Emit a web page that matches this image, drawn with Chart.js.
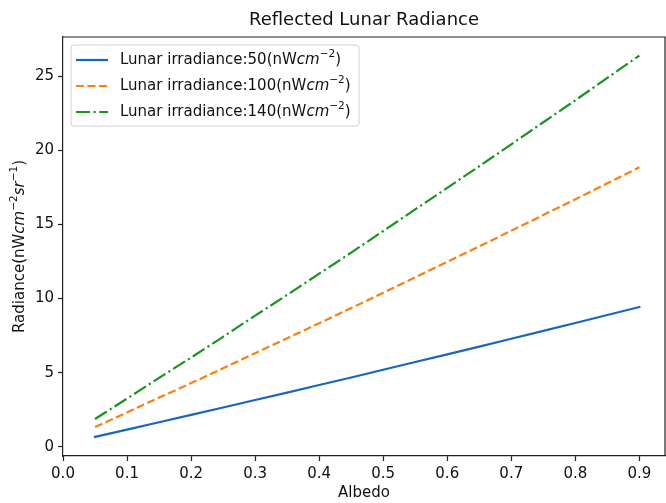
<!DOCTYPE html>
<html lang="en">
  <head>
    <meta charset="UTF-8" />
    <title>Reflected Lunar Radiance</title>
    <script src="https://cdn.jsdelivr.net/npm/chart.js"></script>
    <style>
      html, body { margin: 0; padding: 0; background: #fff; }
      #wrap { width: 666px; height: 503px; }
    </style>
  </head>
  <body>
    <div id="wrap"><canvas id="radianceChart" width="666" height="503"></canvas></div>
    <script>
      // data
      const albedo = [0.05, 0.1, 0.15, 0.2, 0.25, 0.3, 0.35, 0.4, 0.45, 0.5, 0.55, 0.6, 0.65, 0.7, 0.75, 0.8, 0.85, 0.9];
      const irr50 = [0.67, 1.16, 1.66, 2.15, 2.65, 3.16, 3.66, 4.17, 4.68, 5.2, 5.72, 6.24, 6.76, 7.29, 7.82, 8.35, 8.89, 9.43];
      const irr100 = [1.34, 2.32, 3.32, 4.3, 5.3, 6.32, 7.32, 8.34, 9.36, 10.4, 11.44, 12.48, 13.52, 14.58, 15.64, 16.7, 17.78, 18.86];
      const irr140 = [1.88, 3.25, 4.65, 6.02, 7.42, 8.85, 10.25, 11.68, 13.1, 14.56, 16.02, 17.47, 18.93, 20.41, 21.9, 23.38, 24.89, 26.4];
      const irradiance = ["50", "100", "140"];
      const xTicks = [0, 0.1, 0.2, 0.3, 0.4, 0.5, 0.6, 0.7, 0.8, 0.9];
      const yTicks = [0, 5, 10, 15, 20, 25];

      const FONT = '"DejaVu Sans", sans-serif';
      const colors = ["#1866bd", "#ff7f0e", "#16961a"];
      const dashes = [[], [8, 3.5], [14, 3.5, 2.2, 3.5]];

      function pts(ys) {
        return albedo.map((a, i) => ({ x: a, y: ys[i] }));
      }

      // text with italic parts and superscripts, like matplotlib mathtext
      function drawRich(ctx, parts, x, y, size) {
        parts.forEach((p) => {
          const s = p.sup ? size * 0.7 : size;
          ctx.font = (p.italic ? "italic " : "") + s + "px " + FONT;
          ctx.fillText(p.t, x, y - (p.sup ? size * 0.4 : 0));
          x += ctx.measureText(p.t).width;
        });
        return x;
      }
      function richWidth(ctx, parts, size) {
        let w = 0;
        parts.forEach((p) => {
          const s = p.sup ? size * 0.7 : size;
          ctx.font = (p.italic ? "italic " : "") + s + "px " + FONT;
          w += ctx.measureText(p.t).width;
        });
        return w;
      }

      const extras = {
        id: "extras",
        afterDraw(chart) {
          const ctx = chart.ctx;
          const a = chart.chartArea;
          ctx.save();

          // top and right spines
          ctx.strokeStyle = "#222";
          ctx.lineWidth = 1.2;
          ctx.beginPath();
          ctx.moveTo(a.left, a.top);
          ctx.lineTo(a.right, a.top);
          ctx.lineTo(a.right, a.bottom);
          ctx.stroke();

          // y axis title
          const yParts = [
            { t: "Radiance(nW" },
            { t: "cm", italic: true },
            { t: "\u22122", sup: true },
            { t: "sr", italic: true },
            { t: "\u22121", sup: true },
            { t: ")" },
          ];
          ctx.save();
          ctx.translate(20, (a.top + a.bottom) / 2);
          ctx.rotate(-Math.PI / 2);
          ctx.fillStyle = "#111";
          ctx.textBaseline = "middle";
          const w = richWidth(ctx, yParts, 15);
          drawRich(ctx, yParts, -w / 2, 0, 15);
          ctx.restore();

          // legend
          const bx = a.left + 8, by = a.top + 8, bw = 288, bh = 81;
          ctx.fillStyle = "rgba(255,255,255,0.8)";
          ctx.strokeStyle = "#d0d0d0";
          ctx.lineWidth = 1;
          ctx.beginPath();
          ctx.roundRect(bx, by, bw, bh, 3);
          ctx.fill();
          ctx.stroke();

          irradiance.forEach((v, i) => {
            const cy = by + 15 + i * 26;
            ctx.strokeStyle = colors[i];
            ctx.lineWidth = 2.2;
            ctx.setLineDash(dashes[i]);
            ctx.lineCap = "butt";
            ctx.beginPath();
            ctx.moveTo(bx + 5, cy);
            ctx.lineTo(bx + 37, cy);
            ctx.stroke();
            ctx.setLineDash([]);

            ctx.fillStyle = "#111";
            ctx.textBaseline = "middle";
            drawRich(
              ctx,
              [
                { t: "Lunar irradiance:" + v + "(nW" },
                { t: "cm", italic: true },
                { t: "\u22122", sup: true },
                { t: ")" },
              ],
              bx + 49,
              cy,
              15
            );
          });
          ctx.restore();
        },
      };

      const ctxRad = document.getElementById("radianceChart").getContext("2d");
      const radianceChart = new Chart(ctxRad, {
        type: "line",
        data: {
          datasets: [
            {
              label: "Lunar irradiance:50(nWcm\u207b\u00b2)",
              data: pts(irr50),
              borderColor: colors[0],
              borderWidth: 2.2,
              borderCapStyle: "square",
            },
            {
              label: "Lunar irradiance:100(nWcm\u207b\u00b2)",
              data: pts(irr100),
              borderColor: colors[1],
              borderWidth: 2.2,
              borderDash: dashes[1],
            },
            {
              label: "Lunar irradiance:140(nWcm\u207b\u00b2)",
              data: pts(irr140),
              borderColor: colors[2],
              borderWidth: 2.2,
              borderDash: dashes[2],
            },
          ],
        },
        options: {
          responsive: false,
          animation: false,
          devicePixelRatio: 1,
          elements: { point: { radius: 0 }, line: { tension: 0, fill: false } },
          layout: { padding: { left: 0, right: 1, top: 0, bottom: 0 } },
          plugins: {
            legend: { display: false },
            tooltip: { enabled: false },
            title: {
              display: true,
              text: "Reflected Lunar Radiance",
              fullSize: false,
              color: "#111",
              font: { family: FONT, size: 18, weight: "normal", lineHeight: 1.2 },
              padding: { top: 10, bottom: 5.4 },
            },
          },
          scales: {
            x: {
              type: "linear",
              min: 0,
              max: 0.94,
              afterFit: (s) => { s.height = 47; },
              afterBuildTicks: (s) => { s.ticks = xTicks.map((v) => ({ value: v })); },
              grid: { drawOnChartArea: false, drawTicks: true, tickLength: 5, tickWidth: 1.2, tickColor: "#222" },
              border: { display: true, color: "#222", width: 1.2 },
              ticks: {
                color: "#111",
                font: { family: FONT, size: 15 },
                padding: 4,
                maxRotation: 0,
                callback: (v) => v.toFixed(1),
              },
              title: {
                display: true,
                text: "Albedo",
                color: "#111",
                font: { family: FONT, size: 15, lineHeight: 1.2 },
                padding: { top: 0, bottom: 1 },
              },
            },
            y: {
              type: "linear",
              min: -0.62,
              max: 27.65,
              afterFit: (s) => { s.width = 63; },
              afterBuildTicks: (s) => { s.ticks = yTicks.map((v) => ({ value: v })); },
              grid: { drawOnChartArea: false, drawTicks: true, tickLength: 5, tickWidth: 1.2, tickColor: "#222" },
              border: { display: true, color: "#222", width: 1.2 },
              ticks: {
                color: "#111",
                font: { family: FONT, size: 15 },
                padding: 4,
                callback: (v) => String(v),
              },
            },
          },
        },
        plugins: [extras],
      });
    </script>
  </body>
</html>
